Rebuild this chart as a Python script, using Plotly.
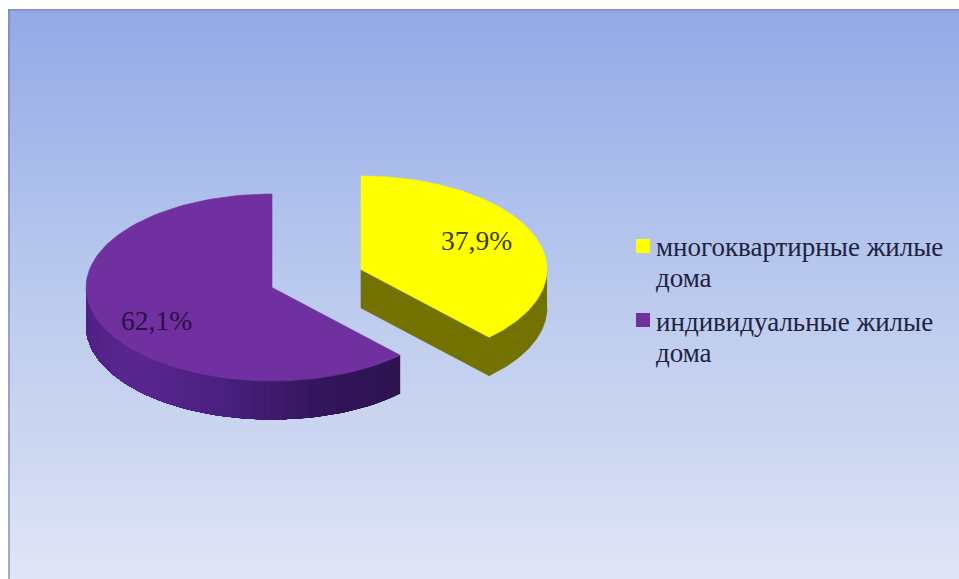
import numpy as np
import plotly.graph_objects as go

categories = ["многоквартирные жилые\nдома", "индивидуальные жилые\nдома"]
shares = [37.9, 62.1]
value_labels = ["37,9%", "62,1%"]
top_colors = ["#FFFF00", "#7030A0"]

W, H = 959, 579
RX, RY, DEPTH = 186, 93.5, 38.5
CENTERS = [(361, 269.5), (272, 287.5)]
FONT = "Liberation Serif"
INK = "#1E2340"


def rim(cx, cy, a0, a1, dy=0, n=120):
    t = np.radians(np.linspace(a0, a1, n))
    return cx + RX * np.sin(t), cy - RY * np.cos(t) + dy


def poly(x, y, color, width=0.6):
    return go.Scatter(
        x=list(x), y=list(y), mode="lines", fill="toself", fillcolor=color,
        line=dict(color=color, width=width), hoverinfo="skip", showlegend=False,
    )


def mix(stops, a):
    ang = [s[0] for s in stops]
    chans = [np.interp(a, ang, [int(s[1][i:i + 2], 16) for s in stops]) for i in (1, 3, 5)]
    return "rgb(%d,%d,%d)" % tuple(chans)


fig = go.Figure()

# page background gradient
edges = np.arange(9, 581, 2)
mids = (edges[:-1] + edges[1:]) / 2
fig.add_trace(go.Heatmap(
    x=[8, W], y=edges, z=[[m] for m in mids], zsmooth=False, showscale=False,
    zmin=9, zmax=579, hoverinfo="skip",
    colorscale=[[0, "#93A9E8"], [0.25, "#A7BAEA"], [0.5, "#BBCAEE"], [0.75, "#CCD6F1"], [1, "#E1E5F7"]],
))

sweep = [s / sum(shares) * 360 for s in shares]

# second slice: purple, follows the first clockwise
cx, cy = CENTERS[1]
a0, a1 = sweep[0], 360.0
stops = [(a0, "#2E1350"), (165, "#34165C"), (195, "#4A2080"), (225, "#5A2790"), (270, "#4E2183")]
vis_end = 270.0
# each band runs to the far end of the wall, so the next one paints over it without a seam
for s in np.arange(a0, vis_end, 2.0):
    n = max(int((vis_end - s) / 2) + 2, 2)
    xt, yt = rim(cx, cy, s, vis_end, n=n)
    xb, yb = rim(cx, cy, s, vis_end, dy=DEPTH, n=n)
    fig.add_trace(poly(np.r_[xt, xb[::-1]], np.r_[yt, yb[::-1]], mix(stops, s + 1), width=0))
xt, yt = rim(cx, cy, a0, a1)
fig.add_trace(poly(np.r_[cx, xt, cx], np.r_[cy, yt, cy], top_colors[1]))

# first slice: yellow, starts at twelve o'clock
cx, cy = CENTERS[0]
a0, a1 = 0.0, sweep[0]
ex, ey = rim(cx, cy, a1, a1, n=1)
wall = "#737100"
fig.add_trace(poly([cx, ex[0], ex[0], cx, cx], [cy, ey[0], ey[0] + DEPTH, cy + DEPTH, cy], wall))
xt, yt = rim(cx, cy, 90, a1)
xb, yb = rim(cx, cy, 90, a1, dy=DEPTH)
fig.add_trace(poly(np.r_[xt, xb[::-1]], np.r_[yt, yb[::-1]], wall))
xt, yt = rim(cx, cy, a0, a1)
fig.add_trace(poly(np.r_[cx, xt, cx], np.r_[cy, yt, cy], top_colors[0]))

# legend markers
fig.add_trace(go.Scatter(
    x=[643, 643], y=[246, 320], mode="markers", hoverinfo="skip", showlegend=False,
    marker=dict(symbol="square", size=14, color=top_colors, line=dict(width=0)),
))

ann = []
for text, (x, y) in zip(value_labels, [(476.5, 240), (156, 320)]):
    ann.append(dict(x=x, y=y, text=text, showarrow=False, xanchor="center", yanchor="middle",
                    font=dict(family=FONT, size=27.5, color="#3A3A10" if x > 300 else "#2A0F4A")))
for label, y0 in zip(categories, [247, 322]):
    for i, line in enumerate(label.split("\n")):
        ann.append(dict(x=654, y=y0 + 30.5 * i, text=line, showarrow=False, xanchor="left", yanchor="middle",
                        font=dict(family=FONT, size=27, color=INK)))

fig.update_layout(
    width=W, height=H, margin=dict(l=0, r=0, t=0, b=0),
    paper_bgcolor="#FFFFFF", plot_bgcolor="#FFFFFF", showlegend=False,
    xaxis=dict(range=[0, W], visible=False, fixedrange=True),
    yaxis=dict(range=[H, 0], visible=False, fixedrange=True),
    annotations=ann,
    shapes=[
        dict(type="rect", x0=8, x1=W, y0=9, y1=11, line_width=0, fillcolor="#8396CC", layer="above"),
        dict(type="rect", x0=8, x1=10, y0=9, y1=H, line_width=0, fillcolor="rgba(110,125,170,0.55)", layer="above"),
    ],
)

fig.write_html(
    "out.html",
    config=dict(displayModeBar=False),
    post_script="document.body.style.margin='0';document.documentElement.style.overflow='hidden';",
)
